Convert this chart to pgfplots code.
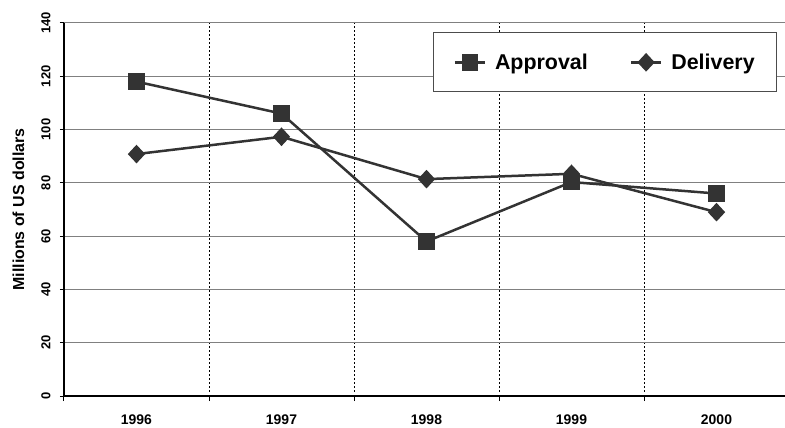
\documentclass[border=0pt]{standalone}
\usepackage{fontspec}
\setmainfont{Liberation Sans}
\usepackage{pgfplots}
\pgfplotsset{compat=1.18}
\definecolor{ser}{HTML}{333333}
\begin{document}
\begin{tikzpicture}
\begin{axis}[
  name=ax,
  scale only axis, width=725bp, height=373bp,
  xmin=0.5, xmax=5.5, ymin=0, ymax=140,
  ytick={0,20,...,140},
  xtick={1,2,3,4,5}, xticklabels={1996,1997,1998,1999,2000},
  minor xtick={0.5,1.5,2.5,3.5,4.5,5.5},
  xminorgrids, ymajorgrids,
  major grid style={draw=gray, line width=1bp},
  minor grid style={draw=black, line width=1bp, dash pattern=on 1.5bp off 2.5bp},
  extra y ticks={140}, extra y tick labels={},
  extra y tick style={grid style={draw=black!80, line width=1.2bp}},
  axis x line*=bottom, axis y line*=left,
  axis line style={-, black, line width=1.2bp},
  tick align=outside,
  major tick length=4bp, minor tick length=5bp,
  x tick style={draw=none},
  minor x tick style={draw=black, line width=1bp},
  y tick style={draw=black, line width=1bp},
  /pgf/number format/assume math mode=true,
  xticklabel style={font=\bfseries\fontsize{14}{16}\selectfont, yshift=-11bp},
  yticklabel style={font=\bfseries\fontsize{13}{15}\selectfont, xshift=-6bp, rotate=90, anchor=south},
  ylabel={Millions of US dollars},
  every axis y label/.style={at={(axis description cs:-0.063,0.5)}, rotate=90, anchor=center, font=\bfseries\fontsize{16}{19}\selectfont},
  legend columns=2,
  legend style={at={(axis description cs:0.509,0.975)}, anchor=north west,
    draw=gray!60!black, line width=1bp, inner xsep=20bp, inner ysep=19bp,
    font=\bfseries\fontsize{21.5}{24}\selectfont,
    /tikz/every odd column/.append style={column sep=7bp},
    /tikz/every even column/.append style={column sep=40bp}},
  legend image code/.code={\draw[mark repeat=2,mark phase=2] plot coordinates {(0bp,0bp) (15bp,0bp) (30bp,0bp)};},
]
\addplot[ser, line width=2.5bp, mark=square*, mark size=7bp, mark options={solid}] coordinates {
  (1,118) (2,106) (3,58) (4,80.3) (5,76)};
\addlegendentry{Approval}
\addplot[ser, line width=2.5bp, mark=diamond*, mark size=7.5bp, mark options={solid, xscale=1.24}] coordinates {
  (1,90.8) (2,97.3) (3,81.4) (4,83.4) (5,69)};
\addlegendentry{Delivery}
\end{axis}
\pgfresetboundingbox
\useasboundingbox ([xshift=-64bp,yshift=-32bp]ax.south west) rectangle ([xshift=-4bp,yshift=23bp]ax.north east);
\end{tikzpicture}
\end{document}
